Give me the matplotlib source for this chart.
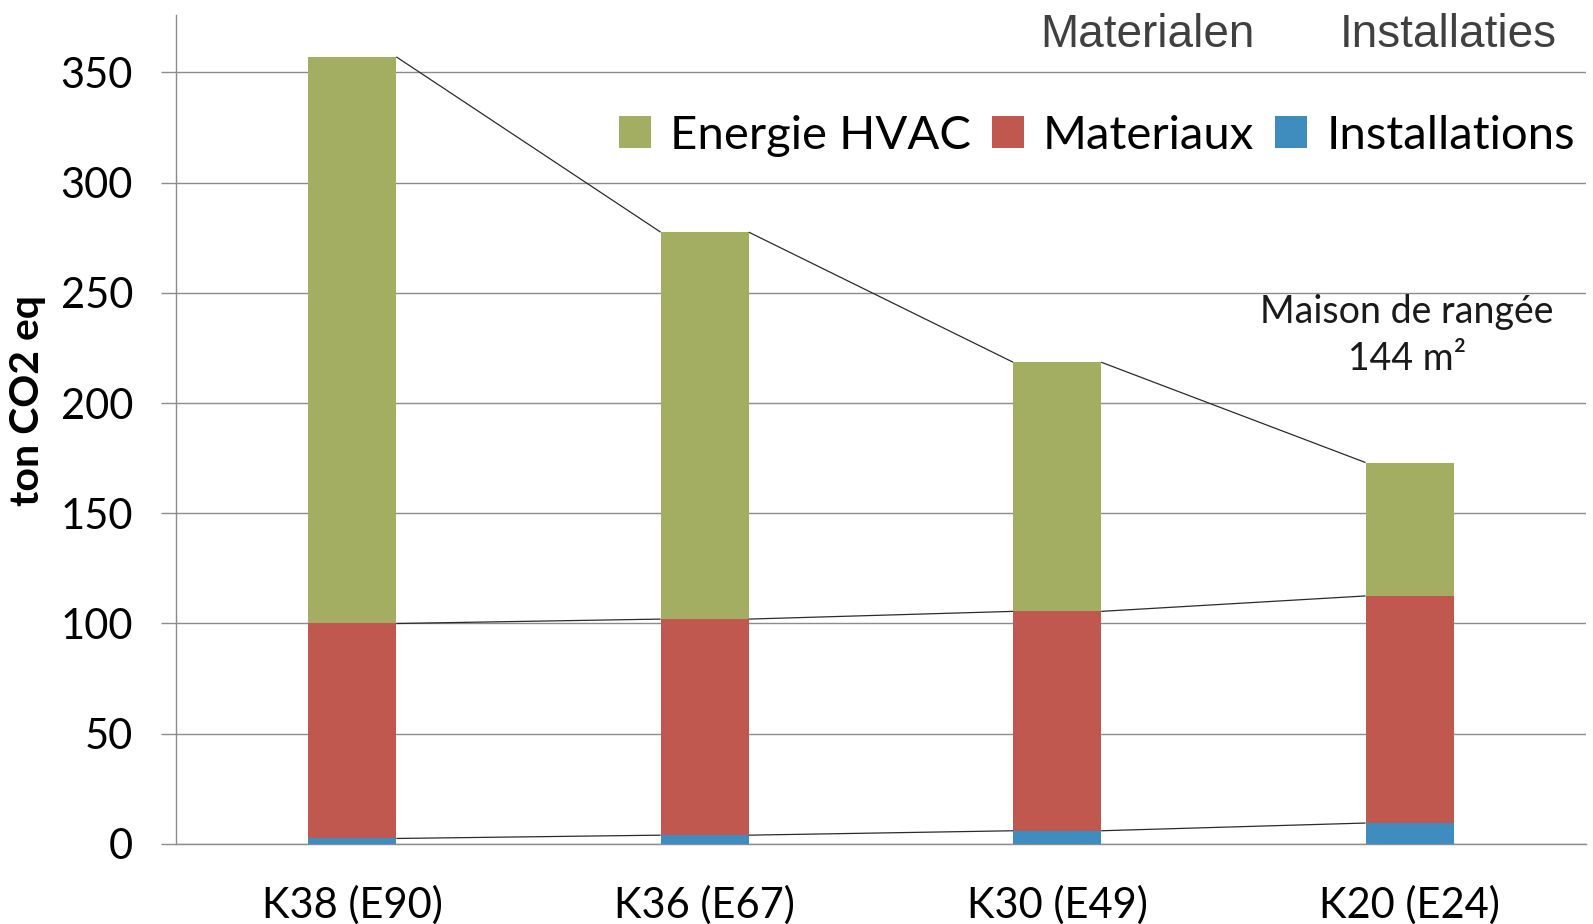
import matplotlib
matplotlib.use("Agg")
import matplotlib.pyplot as plt
from matplotlib.patches import Patch
import numpy as np

# Carbon footprint of a terraced house per insulation/energy level
categories = ["K38 (E90)", "K36 (E67)", "K30 (E49)", "K20 (E24)"]
installations = [2.5, 4.0, 6.0, 9.5]
materiaux = [97.5, 98.0, 99.5, 103.0]
energie_hvac = [257.0, 175.5, 113.0, 60.5]
series_names = ["Energie HVAC", "Materiaux", "Installations"]
y_ticks = [0, 50, 100, 150, 200, 250, 300, 350]

c_green = "#A3AE62"
c_red = "#C0584F"
c_blue = "#3F8CBF"
grid_col = "#8C8C8C"

body_font = ["Lato", "DejaVu Sans"]
head_font = ["Liberation Sans", "DejaVu Sans"]

fig = plt.figure(figsize=(15.93, 9.24), dpi=100)
ax = fig.add_axes([0.1105, 0.0866, 0.885, 0.8972])

x = np.arange(len(categories))
w = 0.25
inst = np.array(installations)
mat = np.array(materiaux)
ene = np.array(energie_hvac)

ax.bar(x, inst, w, color=c_blue, zorder=3)
ax.bar(x, mat, w, bottom=inst, color=c_red, zorder=3)
ax.bar(x, ene, w, bottom=inst + mat, color=c_green, zorder=3)

# series lines joining the top of each segment between neighbouring bars
for level in (inst, inst + mat, inst + mat + ene):
    for i in range(len(x) - 1):
        ax.plot([x[i] + w / 2, x[i + 1] - w / 2], [level[i], level[i + 1]],
                color="#2B2B2B", lw=0.9, zorder=4, solid_capstyle="butt")

ax.set_xlim(-0.5, len(x) - 0.5)
ax.set_ylim(0, 376)
ax.set_yticks(y_ticks)
ax.set_yticklabels([str(t) for t in y_ticks], fontsize=30, family=body_font)
ax.set_xticks(x)
ax.set_xticklabels(categories, fontsize=30, family=body_font)
ax.tick_params(axis="y", length=11, width=1.0, color=grid_col, pad=20)
ax.tick_params(axis="x", length=0, pad=30)

ax.yaxis.grid(True, color=grid_col, lw=1.0, zorder=0)
ax.set_axisbelow(True)
for side in ("top", "right"):
    ax.spines[side].set_visible(False)
for side in ("left", "bottom"):
    ax.spines[side].set_color(grid_col)
    ax.spines[side].set_linewidth(1.0)

fig.text(28 / 1593, 1 - 400 / 924, "ton CO2 eq", fontsize=29.5,
         fontweight="bold", family=body_font, rotation=90,
         ha="center", va="center")

handles = [Patch(facecolor=c_green), Patch(facecolor=c_red),
           Patch(facecolor=c_blue)]
leg = fig.legend(handles, series_names, loc="center",
                 bbox_to_anchor=(0.6885, 0.853), ncol=3, frameon=False,
                 prop={"family": body_font, "size": 34},
                 handlelength=0.68, handleheight=0.68, handletextpad=0.4,
                 columnspacing=0.45, borderaxespad=0)

fig.text(0.7205, 0.962, "Materialen", fontsize=33, family=head_font,
         color="#404040", ha="center", va="center")
fig.text(0.909, 0.962, "Installaties", fontsize=33, family=head_font,
         color="#404040", ha="center", va="center")

fig.text(0.883, 0.662, "Maison de rangée", fontsize=27, family=body_font,
         color="#1A1A1A", ha="center", va="center")
fig.text(0.883, 0.611, "144 m²", fontsize=27, family=body_font,
         color="#1A1A1A", ha="center", va="center")

fig.savefig("out.png", dpi=100)
